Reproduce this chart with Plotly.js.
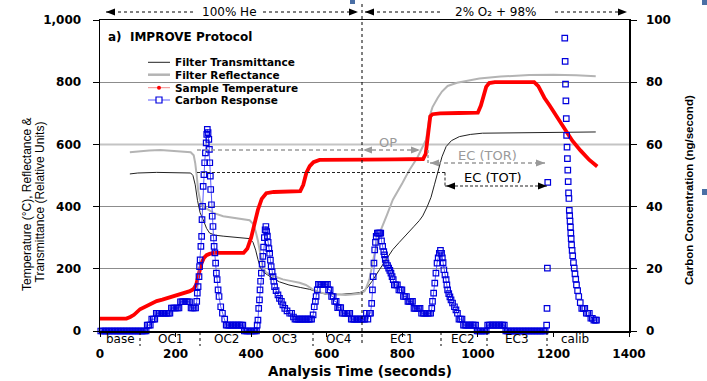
<!DOCTYPE html>
<html>
<head>
<meta charset="utf-8">
<script src="https://cdn.plot.ly/plotly-3.0.1.min.js"></script>
<style>html,body{margin:0;padding:0;background:#fff;}#chart{width:707px;height:381px;}</style>
</head>
<body>
<div id="chart"></div>
<script>
// ---------------- DATA ----------------
// Filter transmittance (left axis, relative units)
const transTime = [79,100,150,200,240,246,252,258,265,273,282,290,305,326,360,396,405,412,418,424,432,450,475,500,530,555,580,599,640,687,704,720,740,760,775,792,810,830,845,854,866,876,885,894,905,916,930,951,980,1012,1100,1200,1312];
const transValue = [505,508,510,510,508,500,470,420,380,358,330,315,308,305,300,297,285,260,230,205,190,175,158,148,140,134,124,118,118,123,134,160,198,235,262,285,310,335,355,370,400,430,470,510,560,593,612,625,632,636,637,638,640];

// Filter reflectance (left axis, relative units)
const reflTime = [79,100,130,160,190,220,240,248,252,256,260,265,270,280,300,326,360,396,405,412,418,424,430,438,450,470,484,500,528,545,563,580,600,616,650,687,700,705,713,725,740,760,775,800,819,840,850,863,872,880,894,905,920,945,1004,1060,1136,1200,1260,1312];
const reflValue = [575,578,580,582,580,578,575,565,540,500,450,420,405,395,380,369,362,356,345,320,290,250,210,190,180,172,166,162,155,148,134,125,119,118,116,120,128,140,166,240,315,375,422,475,518,558,582,615,690,720,750,770,788,798,812,818,823,824,822,819];

// Sample temperature (°C, left axis)
const tempTime = [0,20,40,60,70,80,90,106,120,135,150,165,180,194,210,225,238,248,255,260,264,269,275,282,290,300,320,340,360,380,390,400,410,418,428,440,460,480,500,520,530,538,546,555,565,581,620,700,780,855,862,866,870,874,880,890,900,950,1000,1008,1015,1022,1030,1045,1100,1149,1160,1176,1190,1210,1228,1250,1272,1295,1316];
const tempValue = [40,40,39,40,40,45,52,70,78,86,96,101,106,112,118,123,128,135,150,176,198,219,235,244,248,251,251,250,249,251,265,300,350,390,425,443,447,448,448,449,450,470,508,530,543,550,551,551,552,553,570,610,650,690,697,699,700,701,702,725,760,785,797,800,800,800,787,750,725,688,655,612,580,550,529];

// Carbon response (ng/second, right axis)
const carbonTime = [
  2,6,10,14,18,22,26,30,34,38,42,46,50,54,58,62,66,70,74,78,82,86,90,94,98,102,106,110,114,118,122,
  125,129,133,137,141,145,149,153,157,161,165,169,173,177,181,185,189,193,197,201,205,209,213,217,221,225,229,233,237,241,245,249,253,
  256,257.5,259.6,262,263.5,265,267,269,270,271.5,273,275,277,279,281,282.5,284,286,288,289.5,290.5,292,293,295,297,299,300.5,302,304,306,308,310,312.5,315,319.5,324,330,
  334,338,342,346,350,354,358,362,366,370,374,378,
  382,386,390,394,398,402,406,410,414,
  416,418,420,422,423.5,425,427,429,431,433,435,437,439,441,443,445,447,449,451,453,455.5,458,460,462,466,471,475,480,484,489,495,502,507,512,
  516,520,524,528,532,536,540,544,548,552,556,560,
  564,567,570,572,575,578,582,586,590,594,598,602,605,609,613,617,621,625,629,633,637,641,645,649,653,657,661,665,669,673,677,681,685,689,693,697,701,705,709,713,716,
  719,721,723,725,727,729,731,734,737,740,743,745,748,751,753,755,757,761,764,767,770,773,776,779,783,787,791,795,799,803,807,811,815,819,823,827,831,835,839,843,847,851,855,859,863,867,871,875,
  878,880,883,886,889,892,895,898,901,904,906,908,910,913,916,918,920,923,926,929,933,938,942,946,950,954,958,
  962,966,970,974,978,982,986,990,994,
  998,1002,1006,1010,1014,1018,1022,
  1026,1030,1034,1038,1042,1046,1050,1054,1058,1062,1066,1070,
  1074,1078,1082,1086,1090,1094,1098,1102,1106,1110,1114,1118,1122,1126,1130,1134,1138,1142,1146,1150,1154,1158,1162,1166,1170,1174,1178
];
const carbonValue = [
  0,0,0,0,0,0,0,0,0,0,0,0,0,0,0,0,0,0,0,0,0,0,0,0,0,0,0,0,0,0,0,
  1.9,1.9,1.9,3.8,3.8,3.8,5.7,5.7,5.7,5.7,5.7,5.7,5.7,5.7,5.7,5.7,7.4,7.4,7.4,7.4,7.4,7.4,9.4,9.4,9.4,9.4,9.4,9.4,9.4,7.4,7.4,7.4,7.4,
  9.5,12.2,14.3,17.5,20.7,22.9,27.2,30.4,35.8,40.1,46.5,50.3,54.1,57.3,60.5,63.2,64.8,63.8,61.6,58.4,54.1,49.8,45.5,40.6,36.9,33.6,29.9,27.2,25.1,21.8,18.6,16.5,13.2,11.1,7.8,5.7,3.8,
  1.9,1.9,1.9,1.9,1.9,1.9,1.9,1.9,1.9,1.9,1.9,1.9,
  0,0,0,0,0,0,0,0,0,
  1.9,3.5,7.3,10,13.2,16,18.6,21.5,24,27,30,32.5,33.6,32,30.5,28.5,26.5,25,22.8,20.7,19,17.5,16,14.3,13,11.6,10.5,9.5,8.4,7.3,6.5,5.7,5.7,4.5,
  3.8,3.8,3.8,3.8,3.8,3.8,3.8,3.8,3.8,3.8,3.8,3.8,
  5.2,7.8,9.5,11.1,13.2,15,15,15,15,15,15,15,13.2,13.2,11.1,11.1,9.5,9.5,7.5,7.5,7.5,5.7,5.7,5.7,5.7,5.7,5.7,3.8,3.8,3.8,3.8,3.8,3.8,3.8,3.8,3.8,3.8,5.7,3.8,5.7,5.7,
  8.9,13.2,17.5,21.8,26.1,28.5,30.4,31.5,31.5,31.5,31.5,29,27.2,25.5,24.5,23,21.8,21,20.2,19.5,18.6,17.5,16.5,14.8,14.8,14.8,13.2,13.2,13.2,11.1,11.1,11.1,9.5,9.5,9.5,9.5,7.3,7.3,7.3,7.3,7.3,5.7,5.7,5.7,5.7,5.7,5.7,5.7,
  7.3,9.5,12.2,15.4,18.6,21.8,23.5,25,25.9,25,23.5,22,19.7,18,16.5,14.8,13.2,12,11,10,9,7.8,6.8,5.7,3.8,3.8,3.8,
  1.9,1.9,1.9,1.9,1.9,1.9,1.9,1.9,1.9,
  0,0,0,0,0,0,0,
  1.9,1.9,1.9,1.9,1.9,1.9,1.9,1.9,1.9,1.9,1.9,1.9,
  0,0,0,0,0,0,0,0,0,0,0,0,0,0,0,0,0,0,0,0,0,0,0,0,0,0,0
];
// Calibration peak (points only)
const calibTime = [1182,1183,1184,1185,1230,1231,1232,1233,1234,1235,1236,1237,1238,1239,1240,1241,1242,1243,1244,1245,1246,1247,1248,1249.5,1251,1253,1255,1257,1259,1261,1264,1267,1271,1275,1279,1283,1287,1291,1295,1299,1303,1307,1311,1314];
const calibValue = [1.9,7.3,20.2,47.8,94.2,86.7,79.4,74,68.3,62.9,59.1,55.4,51.7,48,44.4,42.6,38.8,37.1,35.3,33.4,31.5,29.7,27.7,25.9,24.2,22,20.2,18.4,16.7,14.8,13,11.1,9.1,7.3,7.3,7.3,5.7,5.7,5.7,4.1,4.1,3.5,3.5,3.5];

// Texts
const seriesNames = ['Filter Transmittance','Filter Reflectance','Sample Temperature','Carbon Response'];
const phaseLabels = ['base','OC1','OC2','OC3','OC4','EC1','EC2','EC3','calib'];
const xTicks = [0,200,400,600,800,1000,1200,1400];
const yTicks = [0,200,400,600,800,1000];
const y2Ticks = [0,20,40,60,80,100];

// ---------------- LAYOUT HELPERS (pixel -> paper) ----------------
const L = 100, R = 629, TOP = 20, BOT = 331;
const PX = x => (x - L) / (R - L);
const PY = y => (BOT - y) / (BOT - TOP);
const FONT = 'DejaVu Sans';

function seg(x0, y0, x1, y1, color, dash, width) {
  return {type:'line', xref:'paper', yref:'paper', x0:PX(x0), y0:PY(y0), x1:PX(x1), y1:PY(y1),
          line:{color:color, dash:dash || 'solid', width:width || 1}};
}
function head(x, y, dir, color) {
  const l = 9, h = 3.5, bx = x - dir * l;
  return {type:'path', xref:'paper', yref:'paper',
          path:`M${PX(x)},${PY(y)} L${PX(bx)},${PY(y - h)} L${PX(bx)},${PY(y + h)} Z`,
          fillcolor:color, line:{width:0}};
}
function txt(text, x, y, opt) {
  opt = opt || {};
  return Object.assign({text:text, xref:'paper', yref:'paper', x:PX(x), y:PY(y), showarrow:false,
    xanchor:opt.xanchor || 'center', yanchor:'middle',
    font:{family:opt.family || FONT, size:opt.size || 12, color:opt.color || '#000', weight:opt.weight || 'normal'}},
    opt.textangle !== undefined ? {textangle:opt.textangle} : {});
}

const GRAY_D = '#9a9a9a';
const shapes = [
  // lighter 600 gridline
  {type:'line', xref:'x', yref:'y', x0:0, x1:1400, y0:600, y1:600, layer:'between', line:{color:'#c4c4c4', width:2}},
  // top gas arrows
  seg(106, 12, 195, 12, '#000', 'dot', 1), seg(263, 12, 358, 12, '#000', 'dot', 1),
  head(106, 12, -1, '#000'), head(358, 12, 1, '#000'),
  seg(365, 12, 440, 12, '#000', 'dot', 1), seg(555, 12, 627, 12, '#000', 'dot', 1),
  head(365, 12, -1, '#000'), head(627, 12, 1, '#000'),
  // He / O2 boundary
  seg(362, 4, 362, 346, '#000', 'dot', 1),
  // phase separators
  seg(140, 332, 140, 346, '#000', 'dot', 1), seg(200, 332, 200, 346, '#000', 'dot', 1),
  seg(313, 332, 313, 346, '#000', 'dot', 1), seg(441, 332, 441, 346, '#000', 'dot', 1),
  seg(487, 332, 487, 346, '#000', 'dot', 1), seg(547, 332, 547, 346, '#000', 'dot', 1),
  // OP / EC(TOR) gray dashed
  seg(197, 150, 420, 150, GRAY_D, '4px,3px', 1.5),
  head(363, 150, -1, GRAY_D), head(420, 150, 1, GRAY_D),
  seg(428, 150, 428, 163, GRAY_D, '3px,2px', 1.5),
  seg(430, 163, 545, 163, GRAY_D, '4px,3px', 1.5),
  head(430, 163, -1, GRAY_D), head(545, 163, 1, GRAY_D),
  // EC(TOT) black dashed
  seg(197, 172.5, 445, 172.5, '#222', '3px,2px', 1),
  seg(445, 172.5, 445, 186, '#222', '3px,2px', 1),
  seg(445, 186, 547, 186, '#222', '3px,2px', 1),
  head(446, 186, -1, '#000'), head(547, 186, 1, '#000'),
  // manual legend symbols
  seg(148, 62.3, 170, 62.3, '#222', 'solid', 1),
  seg(148, 74.7, 170, 74.7, '#b4b4b4', 'solid', 2.5),
  seg(148, 87.7, 170, 87.7, '#f28b8b', 'solid', 1),
  {type:'circle', xref:'paper', yref:'paper', x0:PX(157), x1:PX(161), y0:PY(89.7), y1:PY(85.7), fillcolor:'#ff0000', line:{width:0}},
  seg(148, 100, 170, 100, '#5a5aff', 'solid', 1),
  {type:'rect', xref:'paper', yref:'paper', x0:PX(156), x1:PX(162), y0:PY(103), y1:PY(97), fillcolor:'#fff', line:{color:'#0000dd', width:1.2}},
  // slide decorations
  {type:'rect', xref:'paper', yref:'paper', x0:PX(350), x1:PX(355), y0:PY(4), y1:PY(-2), fillcolor:'#4a6fa5', line:{width:0}},
  {type:'rect', xref:'paper', yref:'paper', x0:PX(702), x1:PX(708), y0:PY(5), y1:PY(-2), fillcolor:'#4a6fa5', line:{width:0}},
  {type:'rect', xref:'paper', yref:'paper', x0:PX(702), x1:PX(708), y0:PY(195), y1:PY(189), fillcolor:'#4a6fa5', line:{width:0}}
];

const phaseX = [120, 170, 226, 284, 338, 402, 463, 517, 575];
const legendY = [62.3, 74.7, 87.7, 100];
const annotations = [
  txt('100% He', 229, 12),
  txt('2% O₂ + 98%', 495, 12),
  txt('a)  IMPROVE Protocol', 106, 36.5, {xanchor:'left', weight:'bold'}),
  txt('OP', 388, 142, {size:13, color:GRAY_D}),
  txt('EC (TOR)', 487, 155, {size:13, color:GRAY_D}),
  txt('EC (TOT)', 493, 177, {size:13}),
  txt('Analysis Time (seconds)', 360, 371, {size:13.5, weight:'bold'}),
  txt('Temperature (°C), Reflectance &', 27, 204, {family:'Liberation Sans, Arial', size:12, textangle:-90}),
  txt('Transmittance (Relative Units)', 39.5, 202, {family:'Liberation Sans, Arial', size:12, textangle:-90}),
  txt('Carbon Concentration (ng/second)', 689, 190,
      {family:'Liberation Sans, Arial', size:11.5, weight:'bold', textangle:-90})
];
seriesNames.forEach((n, i) => annotations.push(txt(n, 173, legendY[i], {xanchor:'left', size:10.5, weight:'bold'})));
phaseLabels.forEach((p, i) => annotations.push(txt(p, phaseX[i], 338.5)));

// ---------------- TRACES ----------------
const traces = [
  {x:transTime, y:transValue, name:seriesNames[0], type:'scatter', mode:'lines',
   line:{color:'#222', width:1}, showlegend:false},
  {x:reflTime, y:reflValue, name:seriesNames[1], type:'scatter', mode:'lines',
   line:{color:'#b4b4b4', width:2}, showlegend:false},
  {x:tempTime, y:tempValue, name:seriesNames[2], type:'scatter', mode:'lines',
   line:{color:'#ff0000', width:3.8}, showlegend:false},
  {x:carbonTime, y:carbonValue, name:seriesNames[3], type:'scatter', mode:'lines+markers', yaxis:'y2',
   line:{color:'#5a5aff', width:1}, cliponaxis:false,
   marker:{symbol:'square-open', size:5.5, color:'#0000dd', line:{color:'#0000dd', width:1.2}}, showlegend:false},
  {x:calibTime, y:calibValue, name:seriesNames[3] + ' (calib)', type:'scatter', mode:'markers', yaxis:'y2',
   cliponaxis:false,
   marker:{symbol:'square-open', size:5.5, color:'#0000dd', line:{color:'#0000dd', width:1.2}}, showlegend:false}
];

const tickFont = {family:FONT, size:12, color:'#000', weight:'bold'};
const layout = {
  width:707, height:381,
  margin:{l:100, r:78, t:20, b:50, pad:0},
  paper_bgcolor:'#fff', plot_bgcolor:'#fff',
  font:{family:FONT, color:'#000'},
  showlegend:false,
  hovermode:false,
  xaxis:{range:[0,1400], tickvals:xTicks, ticktext:xTicks.map(String), showgrid:false, zeroline:false,
         showline:true, linecolor:'#000', linewidth:1.5, mirror:true,
         ticks:'outside', ticklen:4, tickcolor:'#000', tickfont:tickFont, ticklabelstandoff:7},
  yaxis:{range:[0,1000], tickvals:yTicks, tickformat:',d', showgrid:true, gridcolor:'#8c8c8c', gridwidth:1,
         zeroline:false, showline:true, linecolor:'#000', linewidth:1.5,
         ticks:'outside', ticklen:6, tickcolor:'#000', tickfont:tickFont, ticklabelstandoff:9},
  yaxis2:{range:[0,100], tickvals:y2Ticks, overlaying:'y', side:'right', showgrid:false, zeroline:false,
          showline:true, linecolor:'#000', linewidth:1.5,
          ticks:'outside', ticklen:6, tickcolor:'#000', tickfont:tickFont, ticklabelstandoff:7},
  shapes:shapes,
  annotations:annotations
};

Plotly.newPlot('chart', traces, layout, {displayModeBar:false, staticPlot:true});
</script>
</body>
</html>
